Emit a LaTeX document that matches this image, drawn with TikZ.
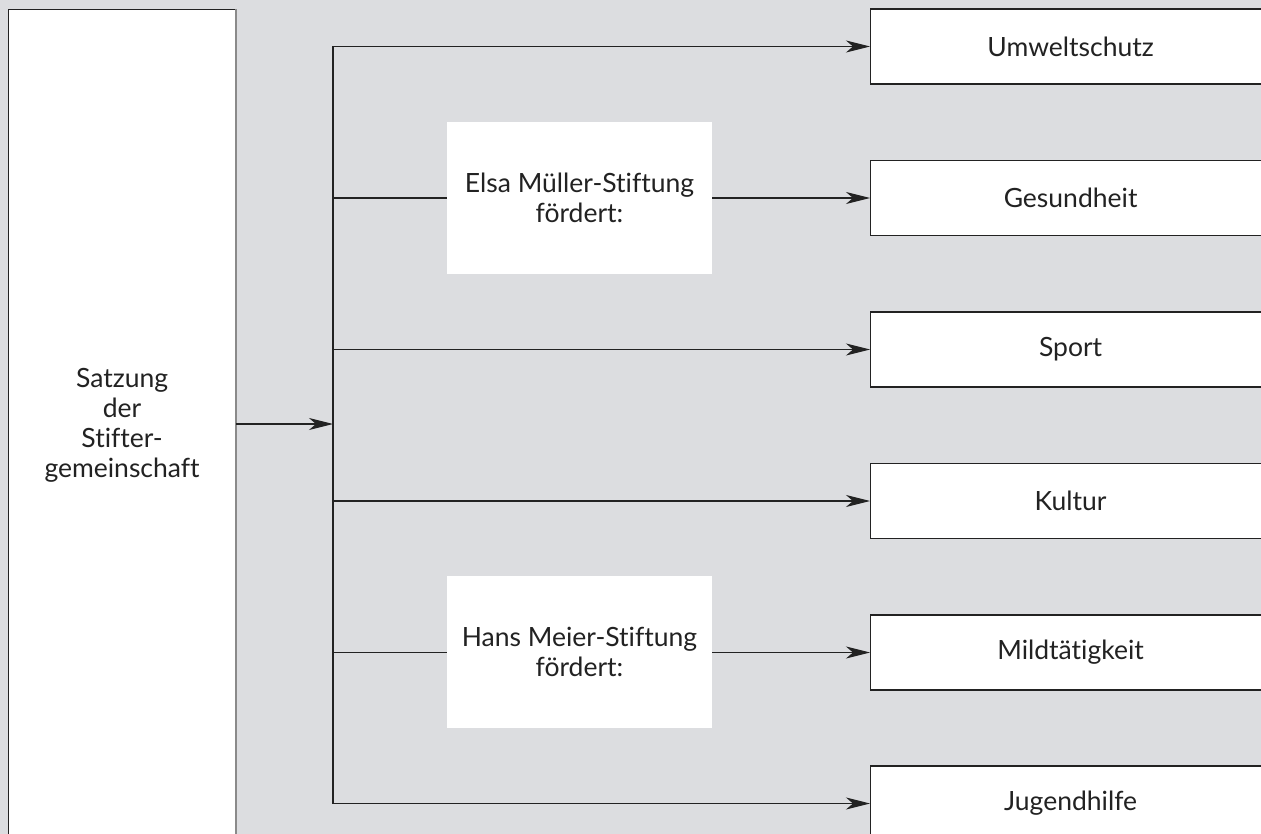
\documentclass[tikz,border=0pt]{standalone}
\usepackage{fontspec}
\setmainfont{Lato}[Ligatures=NoCommon]
\usetikzlibrary{arrows.meta}
\definecolor{bg}{HTML}{DCDDE0}
\definecolor{ln}{HTML}{222222}
\definecolor{edge}{HTML}{8A8A8A}
\tikzset{
  every node/.style={font=\fontsize{26.5}{30}\selectfont, text=ln},
  goalbox/.style={draw=ln, line width=1.2pt, fill=white, rectangle, anchor=west,
    minimum width=400pt, minimum height=75pt, inner sep=0pt, text width=388pt, align=center},
  founder/.style={fill=white, rectangle, minimum width=265pt, minimum height=152pt, inner sep=0pt, align=center},
  conn/.style={draw=ln, line width=1.1pt},
  arr/.style={conn, -{Stealth[length=24pt,width=12pt,inset=7pt]}},
}
\begin{document}
\begin{tikzpicture}[x=1pt,y=-1pt]
\fill[bg] (0,0) rectangle (1261,834);
\useasboundingbox (0,0) rectangle (1261,834);
% left box
\node[draw=ln, line width=1.2pt, fill=white, rectangle, minimum width=227pt, minimum height=831pt, inner sep=0pt, align=center, anchor=north west]
  (satz) at (8,9) {Satzung\\der\\Stifter-\\gemeinschaft};
\draw[edge, line width=2pt] (satz.north east) -- (satz.south east);
% goal boxes
\node[goalbox] (umw) at (870,46.5) {Umweltschutz};
\node[goalbox] (ges) at (870,198) {Gesundheit};
\node[goalbox] (spo) at (870,349.5) {Sport};
\node[goalbox] (kul) at (870,501) {Kultur};
\node[goalbox] (mil) at (870,652.5) {Mildtätigkeit};
\node[goalbox] (jug) at (870,803.5) {Jugendhilfe};
% trunk
\coordinate (tin) at (333,424);
\coordinate (t1) at (umw.west -| tin);
\coordinate (t2) at (ges.west -| tin);
\coordinate (t3) at (spo.west -| tin);
\coordinate (t4) at (kul.west -| tin);
\coordinate (t5) at (mil.west -| tin);
\coordinate (t6) at (jug.west -| tin);
\draw[conn] (t1) -- (t6);
\draw[arr] (satz.east |- tin) -- (tin);
\draw[arr] (t1) -- (umw.west);
\draw[arr] (t2) -- (ges.west);
\draw[arr] (t3) -- (spo.west);
\draw[arr] (t4) -- (kul.west);
\draw[arr] (t5) -- (mil.west);
\draw[arr] (t6) -- (jug.west);
% founders
\node[founder] (elsa) at (579.5,198) {Elsa Müller-Stiftung\\fördert:};
\node[founder] (hans) at (579.5,652) {Hans Meier-Stiftung\\fördert:};
\end{tikzpicture}
\end{document}
